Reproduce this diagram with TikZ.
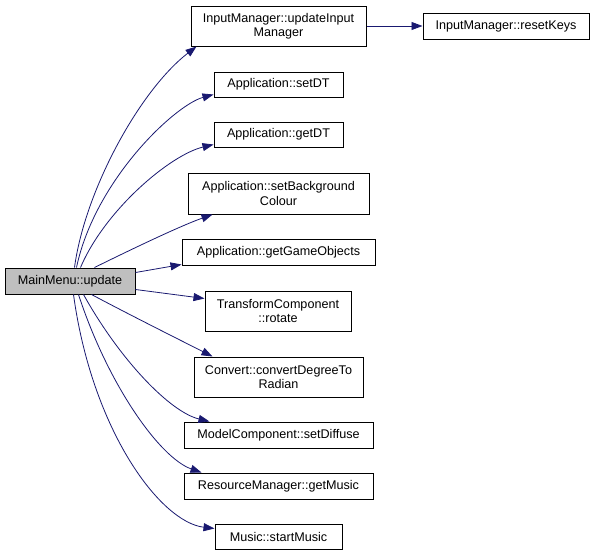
\documentclass[tikz,border=0pt]{standalone}
\usepackage{fontspec}
\setmainfont{Liberation Sans}
\usetikzlibrary{arrows.meta}
\definecolor{edgeblue}{HTML}{191970}
\definecolor{maingray}{HTML}{BFBFBF}
\tikzset{
  fn/.style={draw=black, fill=white, line width=1pt, inner sep=0pt, align=center,
    font=\fontsize{12.6}{14.5}\selectfont},
  call/.style={draw=edgeblue, line width=0.8pt, -{Triangle[length=11pt,width=8pt]}},
}
\begin{document}
\begin{tikzpicture}[x=1pt,y=-1pt]
\useasboundingbox (0,0) rectangle (595,555);
\node[fn, fill=maingray, minimum width=130pt, minimum height=26pt] (main) at (70,281) {MainMenu::update};
\node[fn, minimum width=175pt, minimum height=40pt] (upd) at (278.5,26) {InputManager::updateInput\\Manager};
\node[fn, minimum width=166pt, minimum height=26pt] (reset) at (506,26) {InputManager::resetKeys};
\node[fn, minimum width=129pt, minimum height=25pt] (setdt) at (278.5,84.5) {Application::setDT};
\node[fn, minimum width=129pt, minimum height=25pt] (getdt) at (278.5,134.5) {Application::getDT};
\node[fn, minimum width=181pt, minimum height=41pt] (setbg) at (278.5,193.5) {Application::setBackground\\Colour};
\node[fn, minimum width=193pt, minimum height=26pt] (getgo) at (278.5,252) {Application::getGameObjects};
\node[fn, minimum width=146pt, minimum height=40pt] (rot) at (278,311) {TransformComponent\\::rotate};
\node[fn, minimum width=169pt, minimum height=40pt] (conv) at (278.5,377) {Convert::convertDegreeTo\\Radian};
\node[fn, minimum width=189pt, minimum height=26pt] (diff) at (278.5,435) {ModelComponent::setDiffuse};
\node[fn, minimum width=189pt, minimum height=26pt] (getmus) at (278.5,486) {ResourceManager::getMusic};
\node[fn, minimum width=127pt, minimum height=25pt] (start) at (278.5,536.5) {Music::startMusic};

\draw[call] ([xshift=70pt]main.north west) .. controls (85,190) and (140,90) .. ([xshift=6pt]upd.south west);
\draw[call] ([xshift=72pt]main.north west) .. controls (95,180) and (175,105) .. ([yshift=3pt]setdt.south west);
\draw[call] ([xshift=76pt]main.north west) .. controls (105,210) and (170,155) .. ([yshift=3pt]getdt.south west);
\draw[call] ([xshift=90pt]main.north west) .. controls (130,250) and (180,226) .. ([xshift=25pt]setbg.south west);
\draw[call] ([yshift=-5pt]main.north east) -- ([yshift=1pt]getgo.south west);
\draw[call] ([yshift=5pt]main.south east) -- ([yshift=-8pt]rot.north west);
\draw[call] ([xshift=87pt]main.south west) .. controls (130,315) and (180,340) .. ([xshift=19pt]conv.north west);
\draw[call] ([xshift=79pt]main.south west) .. controls (120,360) and (170,412) .. ([xshift=26pt]diff.north west);
\draw[call] ([xshift=74pt]main.south west) .. controls (108,385) and (160,458) .. ([xshift=18pt]getmus.north west);
\draw[call] ([xshift=69pt]main.south west) .. controls (92,430) and (160,522) .. ([yshift=-5pt]start.north west);
\draw[call] (upd.east) -- (reset.west);
\end{tikzpicture}
\end{document}
